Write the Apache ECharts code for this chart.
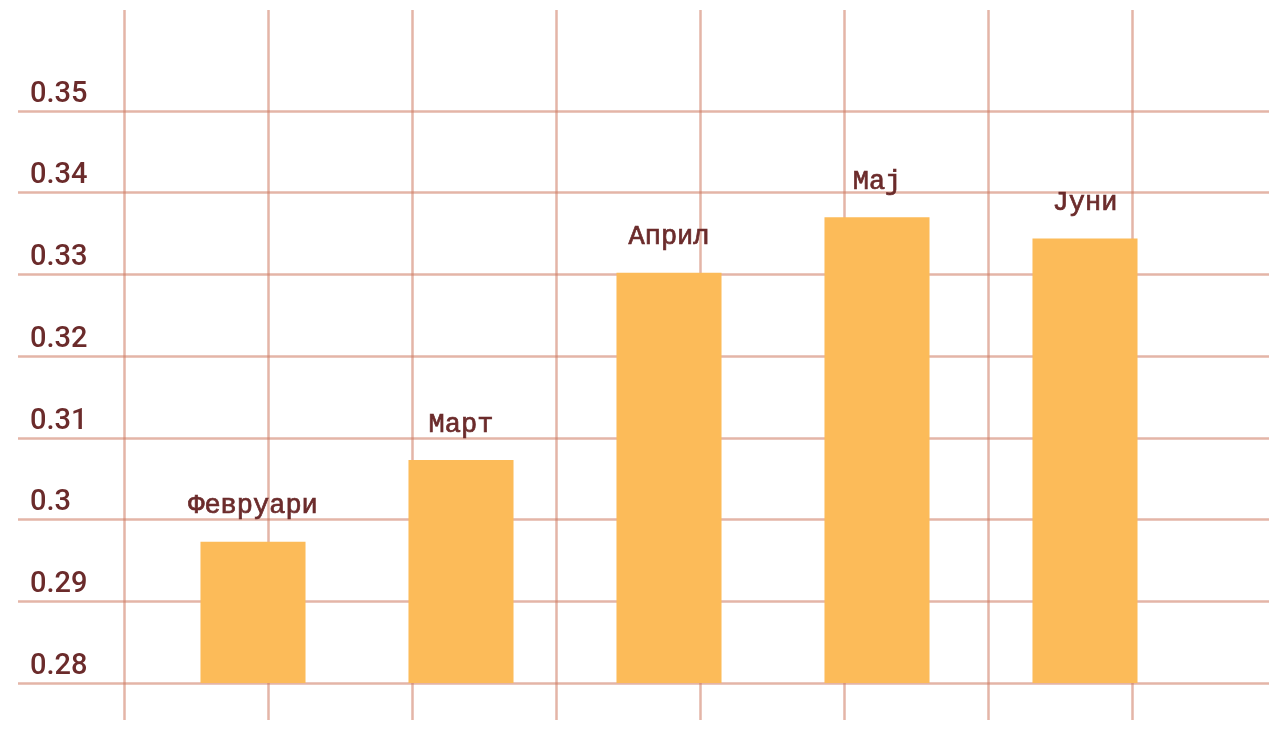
<!DOCTYPE html>
<html>
<head>
<meta charset="utf-8">
<style>
  html, body { margin: 0; padding: 0; background: #ffffff; }
  #chart { width: 1269px; height: 749px; }
</style>
<script src="https://cdn.jsdelivr.net/npm/echarts@6/dist/echarts.min.js"></script>
</head>
<body>
<div id="chart"></div>
<script>
const categories = ['Февруари', 'Март', 'Април', 'Мај', 'Јуни'];
const values = [0.2973, 0.3073, 0.3302, 0.3370, 0.3344];
const yMin = 0.28, yMax = 0.35, yStep = 0.01;

const gridColor = 'rgba(205, 120, 95, 0.55)';
const textColor = '#6b2b2b';

const chart = echarts.init(document.getElementById('chart'));
chart.setOption({
  animation: false,
  backgroundColor: '#ffffff',
  grid: [
    { left: 18, right: 0, top: 111, bottom: 66 },      // horizontal lines + labels
    { left: 149, right: 80, top: 111, bottom: 66 },    // bars
    { left: 124, right: 0, top: 10, bottom: 29 }       // vertical lines (1145 px wide)
  ],
  xAxis: [
    { gridIndex: 0, type: 'value', show: true, min: 0, max: 1,
      axisLine: { show: false }, axisTick: { show: false }, axisLabel: { show: false }, splitLine: { show: false } },
    { gridIndex: 1, type: 'category', data: categories, show: false },
    { gridIndex: 2, type: 'value', min: 0, max: 1145 / 144, interval: 1,
      axisLine: { show: false }, axisTick: { show: false }, axisLabel: { show: false },
      splitLine: { show: true, showMaxLine: false, lineStyle: { color: gridColor, width: 2.5 } } }
  ],
  yAxis: [
    { gridIndex: 0, type: 'value', min: yMin, max: yMax, interval: yStep,
      axisLine: { show: false }, axisTick: { show: false },
      splitLine: { show: true, lineStyle: { color: gridColor, width: 2.5 } },
      axisLabel: {
        inside: true, margin: 12, align: 'left', verticalAlign: 'bottom',
        padding: [0, 0, 2, 0],
        color: textColor, fontFamily: 'Roboto', fontWeight: 500, fontSize: 29,
        formatter: v => String(+v.toFixed(2))
      } },
    { gridIndex: 1, type: 'value', min: yMin, max: yMax, show: false, splitLine: { show: false } },
    { gridIndex: 2, type: 'value', min: 0, max: 1, show: false, splitLine: { show: false } }
  ],
  series: [
    {
      type: 'bar', xAxisIndex: 1, yAxisIndex: 1,
      data: values, barWidth: '50.5%',
      itemStyle: { color: '#fcbb59' },
      label: {
        show: true, position: 'top', distance: 22,
        formatter: '{b}', color: textColor,
        fontFamily: 'Liberation Mono', fontSize: 27,
        textBorderColor: textColor, textBorderWidth: 0.7
      }
    }
  ]
});
</script>
</body>
</html>
